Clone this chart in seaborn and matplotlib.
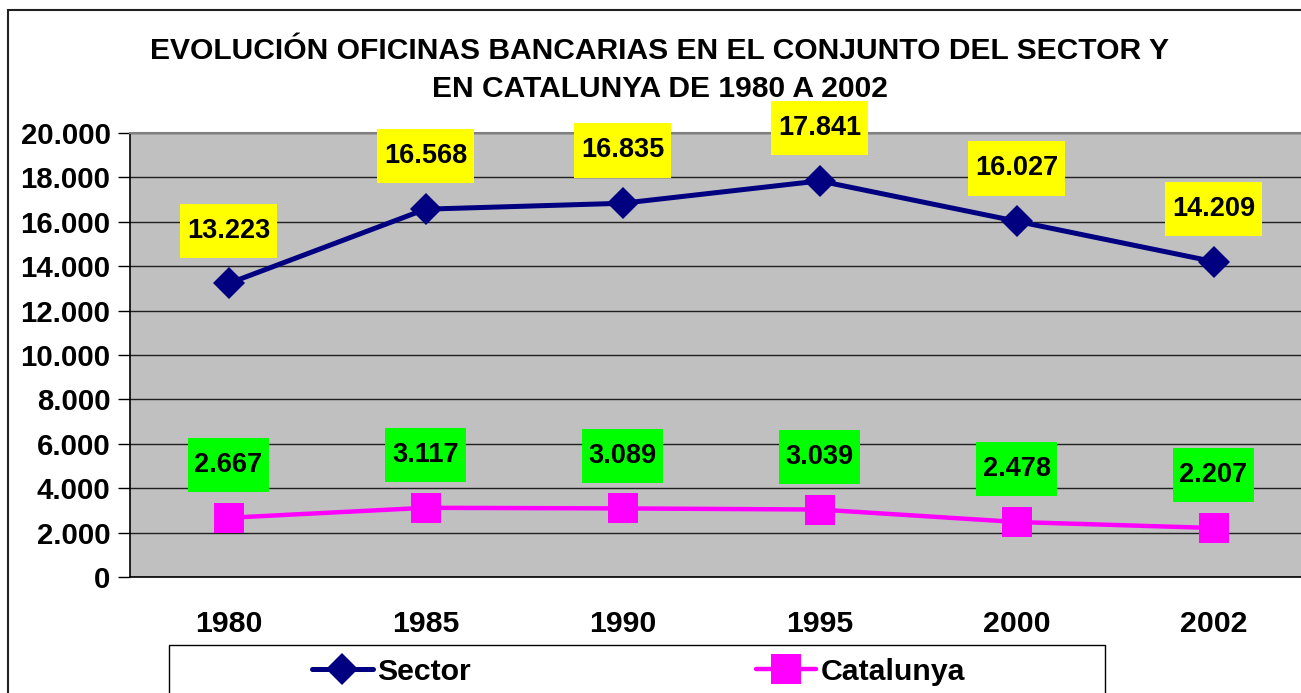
import matplotlib
matplotlib.use("Agg")
import matplotlib.pyplot as plt
import seaborn as sns
import pandas as pd
from matplotlib.path import Path
from matplotlib.patches import Rectangle
from matplotlib.ticker import FixedLocator, FuncFormatter

years = ["1980", "1985", "1990", "1995", "2000", "2002"]
sector = [13223, 16568, 16835, 17841, 16027, 14209]
catalunya = [2667, 3117, 3089, 3039, 2478, 2207]
yticks = list(range(0, 20001, 2000))
title = "EVOLUCIÓN OFICINAS BANCARIAS EN EL CONJUNTO DEL SECTOR Y\nEN CATALUNYA DE 1980 A 2002"

sns.set_style("white")
plt.rcParams["font.family"] = ["Liberation Sans", "DejaVu Sans"]
plt.rcParams["font.weight"] = "bold"
plt.rcParams["text.color"] = "black"
plt.rcParams["xtick.color"] = "black"
plt.rcParams["ytick.color"] = "black"
plt.rcParams["xtick.labelcolor"] = "black"
plt.rcParams["ytick.labelcolor"] = "black"

W, H = 1301, 693
fig = plt.figure(figsize=(W / 100, H / 100), dpi=100)
fig.patch.set_facecolor("white")
ax = fig.add_axes([130 / W, 1 - 577 / H, (1312 - 130) / W, (577 - 133) / H])
ax.set_facecolor("#C0C0C0")

pos = list(range(len(years)))
df_s = pd.DataFrame({"x": pos, "y": sector})
df_c = pd.DataFrame({"x": pos, "y": catalunya})

sns.lineplot(data=df_s, x="x", y="y", ax=ax, color="#000080", linewidth=3.6,
             marker="D", markersize=16.5, markeredgewidth=0, label="Sector", zorder=5)
sns.lineplot(data=df_c, x="x", y="y", ax=ax, color="#FF00FF", linewidth=3.2,
             marker="s", markersize=22, markeredgewidth=0, label="Catalunya", zorder=5)


def label_box(x0, y0, width, height, mutation_size):
    px = 0.25 * mutation_size
    py = 0.52 * mutation_size
    x0 -= px
    y0 -= py
    w = width + 2 * px
    h = height + 2 * py
    return Path([(x0, y0), (x0 + w, y0), (x0 + w, y0 + h), (x0, y0 + h), (x0, y0)],
                closed=True)


def fmt(v):
    return f"{int(v):,}".replace(",", ".")


for vals, col in ((sector, "#FFFF00"), (catalunya, "#00FF00")):
    for i, v in enumerate(vals):
        ax.annotate(fmt(v), (i, v), xytext=(0, 38), textcoords="offset points",
                    ha="center", va="center", fontsize=19.5, fontweight="bold",
                    color="black", zorder=6,
                    bbox=dict(boxstyle=label_box, fc=col, ec="none"))

ax.set_xlim(-0.5, 5.5)
ax.set_ylim(0, 20000)
ax.yaxis.set_major_locator(FixedLocator(yticks))
ax.yaxis.set_major_formatter(FuncFormatter(lambda v, p: fmt(v)))
ax.grid(axis="y", color="#202020", linewidth=1.0)
ax.grid(axis="x", visible=False)
ax.set_axisbelow(True)

ax.set_xticks(pos)
ax.set_xticklabels(years)
ax.set_xticks([p - 0.5 for p in pos] + [5.5], minor=True)
ax.tick_params(axis="x", which="major", length=0, pad=24, labelsize=21.8)
ax.tick_params(axis="x", which="minor", length=9, width=1, color="black", direction="out")
ax.tick_params(axis="y", which="major", length=9, width=1, color="black",
               direction="out", pad=5, labelsize=21.2, left=True)
for lbl in ax.get_xticklabels() + ax.get_yticklabels():
    lbl.set_fontweight("bold")
    lbl.set_color("black")

for s in ("left", "bottom"):
    ax.spines[s].set_color("black")
    ax.spines[s].set_linewidth(1.2)
ax.spines["top"].set_color("#808080")
ax.spines["top"].set_linewidth(1.5)
ax.spines["right"].set_visible(False)
ax.set_xlabel("")
ax.set_ylabel("")

ax.get_legend().remove()
handles, labels = ax.get_legend_handles_labels()
leg = fig.legend(handles, labels, loc="center left",
                 bbox_to_anchor=(297 / W, 1 - 672 / H), ncol=2, frameon=False,
                 handlelength=2.0, handletextpad=0.15,
                 columnspacing=9.4, borderpad=0, prop={"weight": "bold", "size": 21.8})
for t in leg.get_texts():
    t.set_color("black")

fig.patches.append(Rectangle((169 / W, 1 - 720 / H), (1105 - 169) / W, 75 / H,
                             transform=fig.transFigure, fill=False,
                             ec="black", lw=1.0, zorder=3))
fig.patches.append(Rectangle((8 / W, 1 - 720 / H), 1330 / W, 710 / H,
                             transform=fig.transFigure, fill=False,
                             ec="#202020", lw=1.5, zorder=3))

fig.text(660 / W, 1 - 70 / H, title, ha="center", va="center", fontsize=21.6,
         fontweight="bold", linespacing=1.42, color="black")

fig.savefig("out.png", dpi=100, facecolor="white")
